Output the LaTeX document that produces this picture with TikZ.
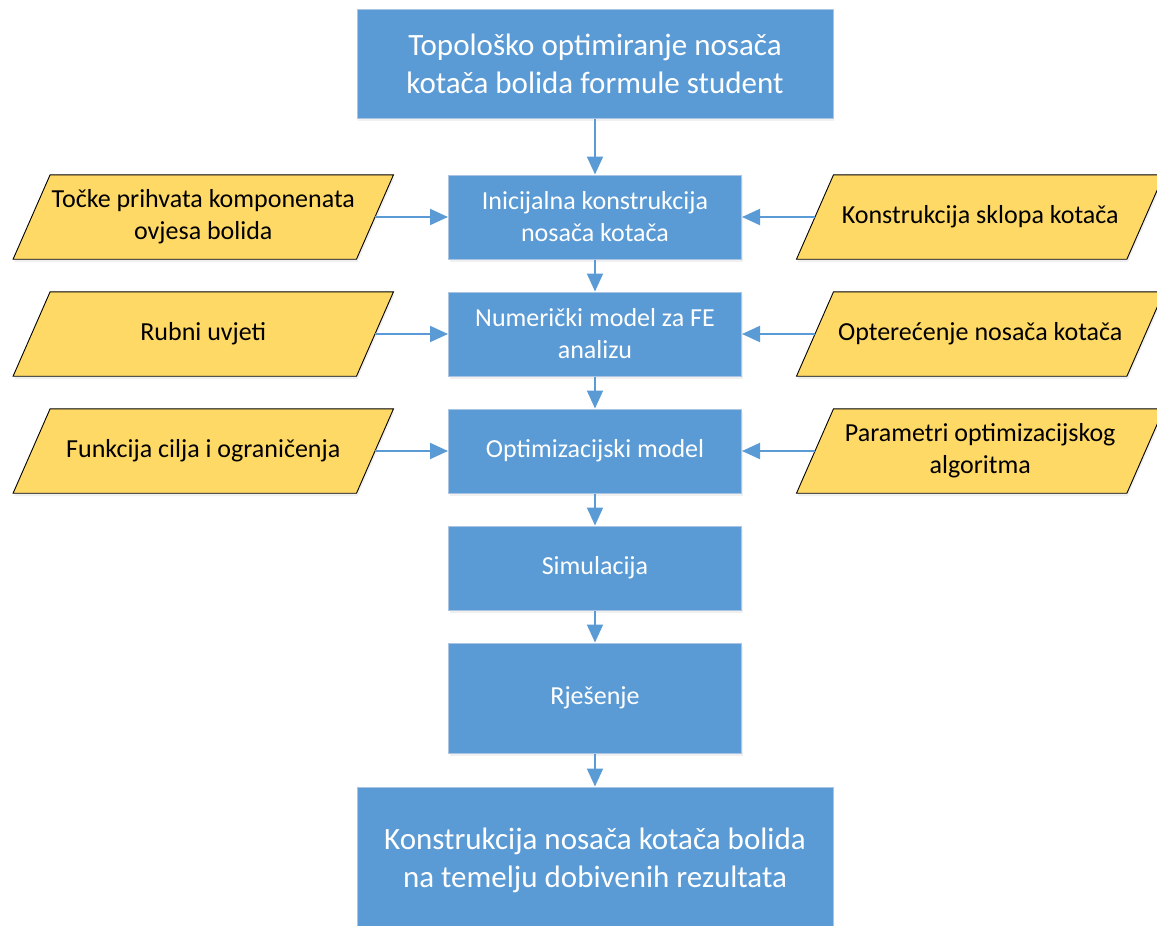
\documentclass[tikz,border=0pt]{standalone}
\usepackage{fontspec}
\setmainfont{Carlito}
\usepackage{tikz}
\usetikzlibrary{arrows.meta,positioning,calc,backgrounds,shadows}
\definecolor{plava}{HTML}{5B9BD5}
\definecolor{rub}{HTML}{A9C5E3}
\definecolor{zuta}{HTML}{FFD966}

\begin{document}
\begin{tikzpicture}[
          x=1pt, y=1pt,
          blok/.style={draw=rub, line width=1pt, fill=plava, text=white, align=center,
                       minimum width=293pt, minimum height=84pt, inner sep=4pt,
                       font=\fontsize{26}{32}\selectfont,
                       drop shadow={shadow xshift=1pt, shadow yshift=-3pt, opacity=0.12}},
          veliki/.style={blok, minimum width=476pt, font=\fontsize{31}{38}\selectfont},
          ulaz/.style={align=center, minimum width=343pt, minimum height=84pt, inner sep=0pt,
                       font=\fontsize{26}{32}\selectfont},
          okvir/.style={draw=black, line width=0.9pt, fill=zuta,
                        drop shadow={shadow xshift=1pt, shadow yshift=-3pt, opacity=0.12}},
          tok/.style={-{Triangle[length=18pt, width=16pt]}, draw=plava, line width=2pt}
        ]
        \useasboundingbox (0,0) rectangle (1157,-926);
        \node[veliki, minimum height=109pt] (b1) at (595,-63.5) {Topološko optimiranje nosača\\kotača bolida formule student};
        \node[blok, below=56pt of b1] (b2) {Inicijalna konstrukcija\\nosača kotača};
        \node[blok, below=32pt of b2] (b3) {Numerički model za FE\\analizu};
        \node[blok, below=32pt of b3] (b4) {Optimizacijski model};
        \node[blok, below=32pt of b4] (b5) {Simulacija};
        \node[blok, below=32pt of b5, minimum height=110pt] (b6) {Rješenje};
        \node[veliki, below=33pt of b6, minimum height=146pt] (b7) {Konstrukcija nosača kotača bolida\\na temelju dobivenih rezultata};
        \node[ulaz, left=73pt of b2] (li1) {Točke prihvata komponenata\\ovjesa bolida};
        \node[ulaz, left=73pt of b3] (li2) {Rubni uvjeti};
        \node[ulaz, left=73pt of b4] (li3) {Funkcija cilja i ograničenja};
        \node[ulaz, right=73pt of b2, minimum width=330pt] (de1) {Konstrukcija sklopa kotača};
        \node[ulaz, right=73pt of b3, minimum width=330pt] (de2) {Opterećenje nosača kotača};
        \node[ulaz, right=73pt of b4, minimum width=330pt] (de3) {Parametri optimizacijskog\\algoritma};
        \begin{scope}[on background layer]
          \foreach \n in {li1,li2,li3,de1,de2,de3}
            \path[okvir] ($(\n.south west)+(-18.5,0)$) -- ($(\n.south east)+(-18.5,0)$)
              -- ($(\n.north east)+(18.5,0)$) -- ($(\n.north west)+(18.5,0)$) -- cycle;
        \end{scope}
        \draw[tok] (b1) -- (b2);
        \draw[tok] (b2) -- (b3);
        \draw[tok] (b3) -- (b4);
        \draw[tok] (b4) -- (b5);
        \draw[tok] (b5) -- (b6);
        \draw[tok] (b6) -- (b7);
        \draw[tok] (li1) -- (b2);
        \draw[tok] (li2) -- (b3);
        \draw[tok] (li3) -- (b4);
        \draw[tok] (de1) -- (b2);
        \draw[tok] (de2) -- (b3);
        \draw[tok] (de3) -- (b4);
      \end{tikzpicture}
\end{document}
